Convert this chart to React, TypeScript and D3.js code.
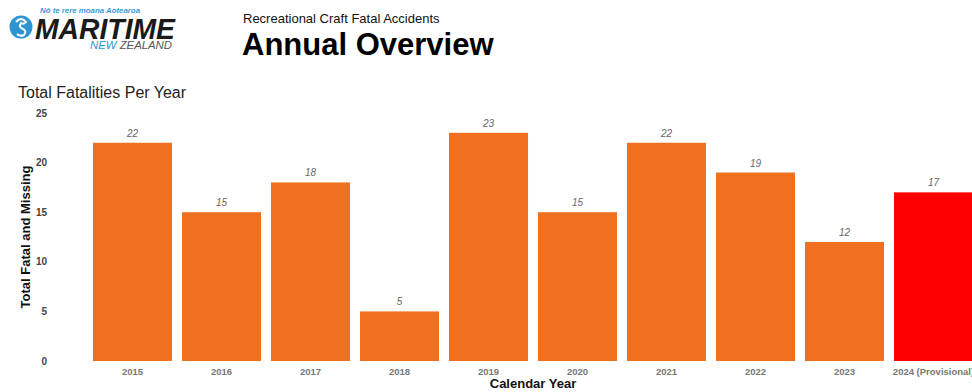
import React from "react";
import * as d3 from "d3";

const categories = ["2015", "2016", "2017", "2018", "2019", "2020", "2021", "2022", "2023", "2024 (Provisional)"];
const values = [22, 15, 18, 5, 23, 15, 22, 19, 12, 17];
const yTicks = [0, 5, 10, 15, 20, 25];

const W = 972;
const H = 392;

export default function App() {
  const x = d3.scaleBand<string>().domain(categories).range([88, 978]).paddingInner(0.112).paddingOuter(0.056);
  const y = d3.scaleLinear().domain([0, 25]).range([361, 113]);
  const font = "Arial, 'Liberation Sans', Helvetica, sans-serif";
  const xMid = (88 + 978) / 2;
  return (
    <svg width={W} height={H} style={{ position: "absolute", left: 0, top: 0, background: "#fff" }} fontFamily={font}>
      {/* Logo */}
      <g>
        <text x={40} y={13} fontSize={8} fontStyle="italic" fontWeight="bold" fill="#3a9ad9" textLength={100} lengthAdjust="spacingAndGlyphs">Nō te rere moana Aotearoa</text>
        <circle cx={21} cy={27} r={11.5} fill="#2e95d3" />
        <path d="M16,22 q5,-6 10,0 q-3,3 -5,1 q-3,4 2,6 q4,2 1,6 q-4,2 -7,-1" fill="none" stroke="#fff" strokeWidth={2} />
        <text x={35} y={39} fontSize={30} fontStyle="italic" fontWeight="bold" fill="#1a1a1a" textLength={140} lengthAdjust="spacingAndGlyphs">MARITIME</text>
        <text x={90} y={49} fontSize={11} fontStyle="italic" fill="#2e95d3" textLength={82} lengthAdjust="spacingAndGlyphs">NEW <tspan fill="#555">ZEALAND</tspan></text>
      </g>
      <text x={243} y={23} fontSize={13} fill="#111">Recreational Craft Fatal Accidents</text>
      <text x={242} y={55} fontSize={31} fontWeight="bold" fill="#000">Annual Overview</text>
      <text x={18} y={98} fontSize={16} fill="#222">Total Fatalities Per Year</text>

      {yTicks.map((t) => (
        <text key={t} x={47} y={y(t)} dy="0.35em" textAnchor="end" fontSize={10} fontWeight="bold" fill="#444">{t}</text>
      ))}

      {categories.map((c, i) => (
        <g key={c}>
          <rect x={x(c)} y={y(values[i])} width={x.bandwidth()} height={y(0) - y(values[i])} fill={i === categories.length - 1 ? "#ff0000" : "#f07020"} />
          <text x={(x(c) as number) + x.bandwidth() / 2} y={y(values[i]) - 6} textAnchor="middle" fontSize={10} fontStyle="italic" fill="#666">{values[i]}</text>
          <text x={(x(c) as number) + x.bandwidth() / 2} y={375} textAnchor="middle" fontSize={9.5} fontWeight="bold" fill="#777">{c}</text>
        </g>
      ))}

      <text x={xMid} y={388} textAnchor="middle" fontSize={13} fontWeight="bold" fill="#111">Calendar Year</text>
      <text transform={`translate(30,237) rotate(-90)`} textAnchor="middle" fontSize={13} fontWeight="bold" fill="#111">Total Fatal and Missing</text>
    </svg>
  );
}
